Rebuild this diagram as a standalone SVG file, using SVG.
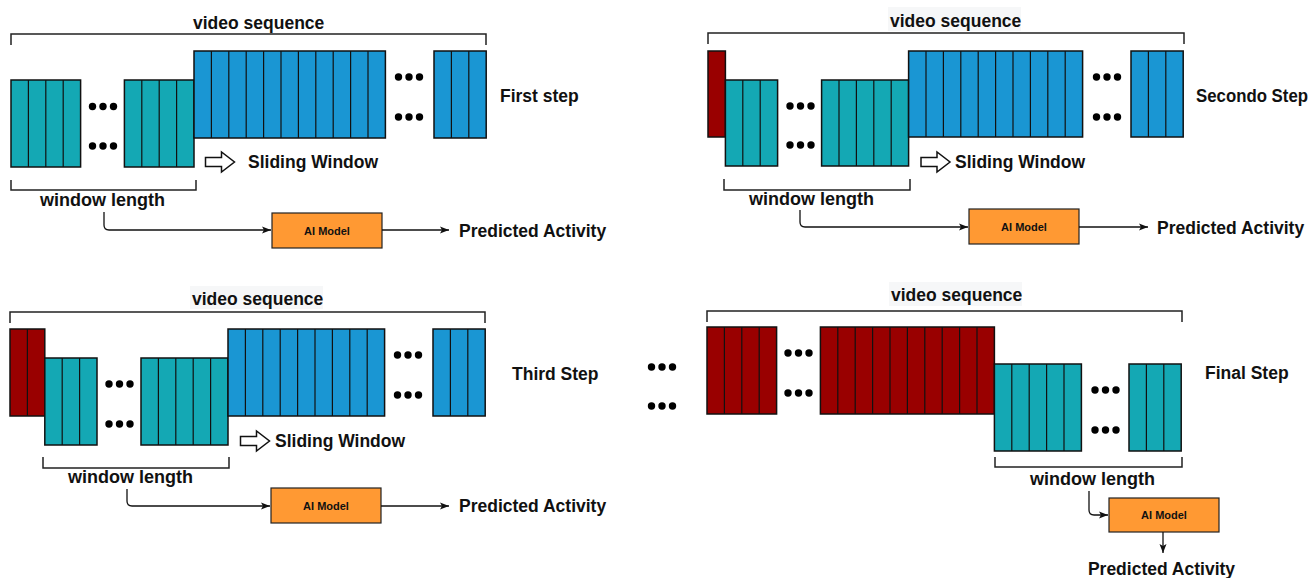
<svg xmlns="http://www.w3.org/2000/svg" width="1311" height="578" viewBox="0 0 1311 578">
<style>
.t{font-family:"Liberation Sans",Arial,sans-serif;font-weight:bold;font-size:17.5px;fill:#111}
.w{font-size:18px}
.m{font-family:"Liberation Sans",Arial,sans-serif;font-weight:bold;font-size:11px;fill:#111;text-anchor:middle}
.teal{fill:#14a8b4;stroke:#111;stroke-width:1.5}
.blue{fill:#1a96d3;stroke:#111;stroke-width:1.5}
.red{fill:#990000;stroke:#111;stroke-width:1.5}
.div{fill:none;stroke:#111;stroke-width:1.2}
.br{fill:none;stroke:#222;stroke-width:1.5}
.hl{fill:#f6f7f8}
.box{fill:#ff9933;stroke:#222;stroke-width:1.2}
.ha{fill:#fff;stroke:#111;stroke-width:1.5;stroke-linejoin:miter}
.c{fill:none;stroke:#111;stroke-width:1.3}
</style>
<defs>
<marker id="ah" markerUnits="userSpaceOnUse" markerWidth="10" markerHeight="10" viewBox="0 0 10 10" refX="9" refY="5" orient="auto">
<path d="M0,1.5 L9,5 L0,8.5 L2,5 Z" fill="#111"/>
</marker>
<g id="dots"><circle cx="-10.5" cy="0" r="3.7"/><circle cx="0" cy="0" r="3.7"/><circle cx="10.5" cy="0" r="3.7"/></g>
<path id="harrow" d="M0,-4.5 H16 V-10 L29,0 L16,10 V4.5 H0 Z"/>
</defs>

<!-- Panel 1: First step -->
<g id="panel1">
<text class="t" x="193" y="28.5">video sequence</text>
<path class="br" d="M11,45 V34 H486 V45"/>
<rect class="teal" x="11" y="80" width="69.6" height="87"/>
<path class="div" d="M28.4,80V167M45.8,80V167M63.2,80V167"/>
<rect class="teal" x="124.4" y="80" width="69.6" height="87"/>
<path class="div" d="M141.8,80V167M159.2,80V167M176.6,80V167"/>
<rect class="blue" x="194" y="51" width="191.4" height="87"/>
<path class="div" d="M211.4,51V138M228.8,51V138M246.2,51V138M263.6,51V138M281,51V138M298.4,51V138M315.8,51V138M333.2,51V138M350.6,51V138M368,51V138"/>
<rect class="blue" x="434" y="51" width="52.2" height="87"/>
<path class="div" d="M451.4,51V138M468.8,51V138"/>
<use href="#dots" x="103" y="106.5" fill="#000"/>
<use href="#dots" x="103" y="146" fill="#000"/>
<use href="#dots" x="409" y="77" fill="#000"/>
<use href="#dots" x="409" y="117" fill="#000"/>
<text class="t" x="500" y="102">First step</text>
<use href="#harrow" x="205.5" y="162" class="ha"/>
<text class="t" x="248" y="168">Sliding Window</text>
<path class="br" d="M11,180 V190 H196 V180"/>
<text class="t w" x="40" y="206">window length</text>
</g>
<g id="ai1">
<rect class="box" x="272" y="213" width="110" height="35"/>
<text class="m" x="327" y="234.5">AI Model</text>
</g>
<text class="t" x="459" y="237">Predicted Activity</text>

<!-- Panel 2: Secondo Step -->
<g id="panel2">
<rect class="hl" x="888" y="7" width="133" height="24"/>
<text class="t" x="890" y="26.5">video sequence</text>
<path class="br" d="M708,44 V33 H1184 V44"/>
<rect class="red" x="708" y="51" width="17.4" height="86"/>
<rect class="teal" x="725.4" y="80" width="52.2" height="86"/>
<path class="div" d="M742.8,80V166M760.2,80V166"/>
<rect class="teal" x="821.6" y="80" width="87" height="86"/>
<path class="div" d="M839,80V166M856.4,80V166M873.8,80V166M891.2,80V166"/>
<rect class="blue" x="908.6" y="51" width="174" height="86"/>
<path class="div" d="M926,51V137M943.4,51V137M960.8,51V137M978.2,51V137M995.6,51V137M1013,51V137M1030.4,51V137M1047.8,51V137M1065.2,51V137"/>
<rect class="blue" x="1131" y="51" width="52.2" height="86"/>
<path class="div" d="M1148.4,51V137M1165.8,51V137"/>
<use href="#dots" x="800.5" y="106" fill="#000"/>
<use href="#dots" x="800.5" y="145" fill="#000"/>
<use href="#dots" x="1107" y="77" fill="#000"/>
<use href="#dots" x="1107" y="117" fill="#000"/>
<text class="t" x="1196" y="101.5" textLength="112" lengthAdjust="spacingAndGlyphs">Secondo Step</text>
<use href="#harrow" x="921" y="162" class="ha"/>
<text class="t" x="955" y="168">Sliding Window</text>
<path class="br" d="M724,179 V190 H910 V179"/>
<text class="t w" x="749" y="205">window length</text>
</g>
<g id="ai2">
<rect class="box" x="969" y="209" width="110" height="35"/>
<text class="m" x="1024" y="230.5">AI Model</text>
</g>
<text class="t" x="1157" y="233.5">Predicted Activity</text>

<!-- Panel 3: Third Step -->
<g id="panel3">
<rect class="hl" x="190" y="286" width="133" height="23"/>
<text class="t" x="192" y="305">video sequence</text>
<path class="br" d="M10,323 V312 H485 V323"/>
<rect class="red" x="10" y="329" width="34.8" height="87"/>
<path class="div" d="M27.4,329V416"/>
<rect class="teal" x="44.8" y="358" width="52.2" height="87"/>
<path class="div" d="M62.2,358V445M79.6,358V445"/>
<rect class="teal" x="141" y="358" width="87" height="87"/>
<path class="div" d="M158.4,358V445M175.8,358V445M193.2,358V445M210.6,358V445"/>
<rect class="blue" x="228" y="329" width="156.6" height="87"/>
<path class="div" d="M245.4,329V416M262.8,329V416M280.2,329V416M297.6,329V416M315,329V416M332.4,329V416M349.8,329V416M367.2,329V416"/>
<rect class="blue" x="433" y="329" width="52.2" height="87"/>
<path class="div" d="M450.4,329V416M467.8,329V416"/>
<use href="#dots" x="119.5" y="384" fill="#000"/>
<use href="#dots" x="119.5" y="424" fill="#000"/>
<use href="#dots" x="408" y="355" fill="#000"/>
<use href="#dots" x="408" y="395" fill="#000"/>
<text class="t" x="512" y="380">Third Step</text>
<use href="#harrow" x="240.5" y="441" class="ha"/>
<text class="t" x="275" y="447">Sliding Window</text>
<path class="br" d="M43,457 V468 H229 V457"/>
<text class="t w" x="68" y="483">window length</text>
</g>
<g id="ai3">
<rect class="box" x="271" y="488" width="110" height="35"/>
<text class="m" x="326" y="509.5">AI Model</text>
</g>
<text class="t" x="459" y="512">Predicted Activity</text>

<!-- Panel 4: Final Step -->
<g id="panel4">
<use href="#dots" x="662" y="367" fill="#000"/>
<use href="#dots" x="662" y="406" fill="#000"/>
<rect class="hl" x="889" y="282" width="133" height="24"/>
<text class="t" x="891" y="301">video sequence</text>
<path class="br" d="M707,322 V311 H1182 V322"/>
<rect class="red" x="707" y="327" width="69.6" height="87"/>
<path class="div" d="M724.4,327V414M741.8,327V414M759.2,327V414"/>
<rect class="red" x="820.4" y="327" width="174" height="87"/>
<path class="div" d="M837.8,327V414M855.2,327V414M872.6,327V414M890,327V414M907.4,327V414M924.8,327V414M942.2,327V414M959.6,327V414M977,327V414"/>
<rect class="teal" x="994.4" y="364" width="87" height="87"/>
<path class="div" d="M1011.8,364V451M1029.2,364V451M1046.6,364V451M1064,364V451"/>
<rect class="teal" x="1129" y="364" width="52.2" height="87"/>
<path class="div" d="M1146.4,364V451M1163.8,364V451"/>
<use href="#dots" x="798.5" y="353" fill="#000"/>
<use href="#dots" x="798.5" y="393" fill="#000"/>
<use href="#dots" x="1105.5" y="390" fill="#000"/>
<use href="#dots" x="1105.5" y="430" fill="#000"/>
<text class="t" x="1205" y="379">Final Step</text>
<path class="br" d="M995,457 V467 H1182 V457"/>
<text class="t w" x="1030" y="485">window length</text>
</g>
<g id="ai4">
<rect class="box" x="1109" y="498" width="110" height="34"/>
<text class="m" x="1164" y="519">AI Model</text>
</g>
<text class="t" x="1161.5" y="575" text-anchor="middle">Predicted Activity</text>

<!-- Connectors -->
<g id="connectors">
<path class="c" d="M104,212 V225 Q104,230 109,230 H271" marker-end="url(#ah)"/>
<path class="c" d="M382,230 H449" marker-end="url(#ah)"/>
<path class="c" d="M800,210 V222 Q800,227 805,227 H968" marker-end="url(#ah)"/>
<path class="c" d="M1079,227 H1148" marker-end="url(#ah)"/>
<path class="c" d="M127,489 V501 Q127,506 132,506 H270" marker-end="url(#ah)"/>
<path class="c" d="M381,506 H449" marker-end="url(#ah)"/>
<path class="c" d="M1089,491 V510 Q1089,515 1094,515 H1108" marker-end="url(#ah)"/>
<path class="c" d="M1163,532 V553" marker-end="url(#ah)"/>
</g>
</svg>
